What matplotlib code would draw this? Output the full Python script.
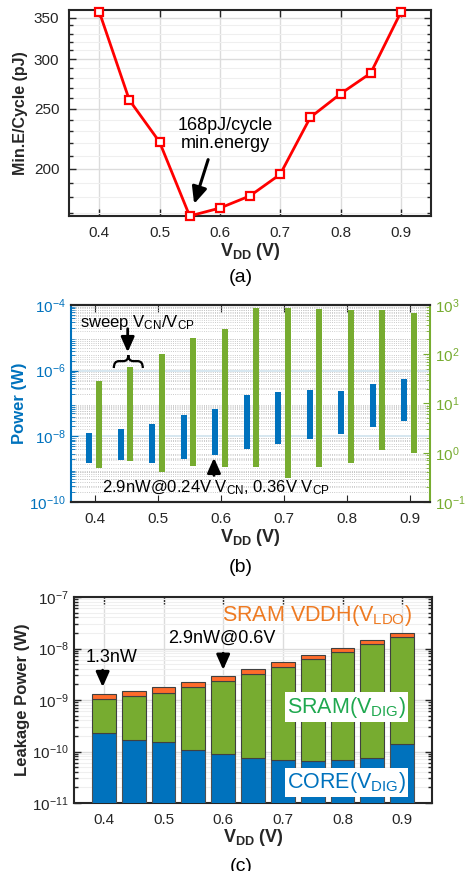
import numpy as np
import matplotlib
matplotlib.use("Agg")
import matplotlib.pyplot as plt
from matplotlib.path import Path
from matplotlib.patches import PathPatch
import matplotlib.transforms as mtransforms

plt.rcParams['font.family'] = ['Liberation Sans', 'DejaVu Sans']
plt.rcParams['mathtext.fontset'] = 'custom'
plt.rcParams['mathtext.rm'] = 'Liberation Sans'
plt.rcParams['mathtext.it'] = 'Liberation Sans'
plt.rcParams['mathtext.bf'] = 'Liberation Sans:bold'
plt.rcParams['xtick.direction'] = 'in'
plt.rcParams['ytick.direction'] = 'in'

# ---- data ----
vdd = [0.4, 0.45, 0.5, 0.55, 0.6, 0.65, 0.7, 0.75, 0.8, 0.85, 0.9]

# (a) minimum energy per cycle (pJ)
min_energy = [358, 258, 221, 168, 173, 181, 196, 242, 264, 285, 357]

# (b) power range (W) and frequency range while sweeping VCN/VCP
power_lo = [1.55e-9, 1.87e-9, 1.55e-9, 2.0e-9, 2.74e-9, 4.0e-9, 5.9e-9, 8.5e-9, 1.18e-8, 1.94e-8, 2.83e-8]
power_hi = [1.27e-8, 1.7e-8, 2.3e-8, 4.35e-8, 6.6e-8, 1.78e-7, 2.2e-7, 2.6e-7, 2.4e-7, 4.0e-7, 5.5e-7]
freq_lo = [0.50, 0.67, 0.40, 0.54, 0.515, 0.515, 0.31, 0.515, 0.61, 1.14, 1.0]
freq_hi = [28.8, 55.5, 99, 215, 323, 876, 876, 827, 790, 805, 695]

# (c) leakage power breakdown (W)
core_leak = [2.24e-10, 1.71e-10, 1.52e-10, 1.06e-10, 8.75e-11, 7.6e-11, 6.7e-11, 6.5e-11, 6.8e-11, 7.5e-11, 1.43e-10]
sram_dig_leak = [8.1e-10, 1.01e-9, 1.24e-9, 1.66e-9, 2.22e-9, 3.08e-9, 4.33e-9, 6.24e-9, 8.43e-9, 1.2e-8, 1.65e-8]
sram_vddh_leak = [2.8e-10, 3.0e-10, 4.0e-10, 5.1e-10, 6.3e-10, 7.9e-10, 1.0e-9, 1.3e-9, 1.9e-9, 2.6e-9, 3.6e-9]

xticks = [0.4, 0.5, 0.6, 0.7, 0.8, 0.9]

BLUE = '#0072BD'
GREEN = '#77AC30'
ORANGE = '#FF6B2B'
DARK = '#262626'

W, H = 468, 871
fig = plt.figure(figsize=(W / 100, H / 100), dpi=100)


def px_axes(l, t, r, b):
    return fig.add_axes([l / W, 1 - b / H, (r - l) / W, (b - t) / H])


vlabel = r'$\mathbf{V_{DD}}$ $\mathbf{(V)}$'
arrow_kw = dict(arrowstyle='-|>,head_length=0.9,head_width=0.4', color='black', lw=2)

# ================= (a) =================
ax = px_axes(69, 10, 431, 216)
ax.plot(vdd, min_energy, color='#FF0000', lw=2, marker='s', ms=6,
        mfc='white', mec='#FF0000', mew=1.6, zorder=3, clip_on=False)
ax.set_yscale('log')
ax.set_xlim(0.35, 0.95)
ax.set_ylim(168, 360)
ax.set_xticks(xticks)
ax.set_xticklabels([f'{v:.1f}' for v in xticks])
ax.set_yticks([200, 250, 300, 350])
ax.set_yticklabels(['200', '250', '300', '350'])
ax.set_yticks([v for v in range(170, 360, 10) if v not in (200, 250, 300, 350)], minor=True)
ax.yaxis.set_minor_formatter(plt.NullFormatter())
ax.xaxis.set_minor_locator(plt.NullLocator())
ax.grid(True, which='major', color='#dcdcdc', lw=1)
ax.grid(True, which='minor', axis='y', color='#efefef', lw=0.8)
ax.set_axisbelow(True)
ax.tick_params(which='both', top=True, right=True, labelsize=11, colors=DARK, width=1)
ax.tick_params(which='major', length=5, pad=7)
ax.tick_params(which='minor', length=3)
for s in ax.spines.values():
    s.set_linewidth(1.5)
    s.set_color(DARK)
ax.set_ylabel('Min.E/Cycle (pJ)', fontsize=11.5, fontweight='bold', color=DARK, labelpad=4)
ax.annotate('', xy=(0.556, 174), xytext=(0.582, 209),
            arrowprops=dict(arrowstyle='-|>,head_length=1.0,head_width=0.45', color='black', lw=2.2))
ax.text(0.609, 227, '168pJ/cycle\nmin.energy', ha='center', va='center', fontsize=13,
        linespacing=1.1)
fig.text(250 / W, 1 - 252 / H, vlabel, ha='center', va='center', fontsize=13, color=DARK)
fig.text(241 / W, 1 - 277 / H, '(a)', ha='center', va='center', fontsize=14)

# ================= (b) =================
axb = px_axes(71, 305, 430, 502)
axr = axb.twinx()
axr.set_zorder(axb.get_zorder() + 1)
axr.patch.set_visible(False)
xv = np.array(vdd)
bw = 0.0095
axb.bar(xv - 0.009, np.array(power_hi) - np.array(power_lo), bottom=power_lo, width=bw,
        color=BLUE, zorder=3)
axr.bar(xv + 0.006, np.array(freq_hi) - np.array(freq_lo), bottom=freq_lo, width=bw,
        color=GREEN, zorder=3)
axb.set_yscale('log')
axr.set_yscale('log')
axb.set_xlim(0.362, 0.932)
axb.set_ylim(1e-10, 1e-4)
axr.set_ylim(1e-1, 1e3)
axb.set_xticks(xticks)
axb.set_xticklabels([f'{v:.1f}' for v in xticks])
axb.xaxis.set_minor_locator(plt.NullLocator())
axb.set_yticks([1e-10, 1e-8, 1e-6, 1e-4])
axb.set_yticklabels([r'$10^{-10}$', r'$10^{-8}$', r'$10^{-6}$', r'$10^{-4}$'])
axb.yaxis.set_minor_locator(matplotlib.ticker.LogLocator(base=10, subs=np.arange(2, 10), numticks=20))
axb.yaxis.set_minor_formatter(plt.NullFormatter())
axr.set_yticks([1e-1, 1e0, 1e1, 1e2, 1e3])
axr.set_yticklabels([r'$10^{-1}$', r'$10^{0}$', r'$10^{1}$', r'$10^{2}$', r'$10^{3}$'])
axr.yaxis.set_minor_locator(matplotlib.ticker.LogLocator(base=10, subs=np.arange(2, 10), numticks=20))
axr.yaxis.set_minor_formatter(plt.NullFormatter())

# grid lines all live on the lower axes so they stay behind both bar sets
axb.grid(True, which='major', axis='y', color='#cfe3ee', lw=1.2)
axb.grid(True, which='minor', axis='y', color='#b8b8b8', lw=0.6, ls=':')
axb.set_axisbelow(True)
tr_r = mtransforms.blended_transform_factory(axb.transAxes, axr.transData)
for dec in [0.1, 1, 10, 100]:
    for m in range(2, 10):
        axb.plot([0, 1], [m * dec, m * dec], transform=tr_r, color='#c4c4c4', lw=0.6,
                 ls=':', zorder=1)

axb.tick_params(axis='x', which='both', top=True, labelsize=11, colors=DARK, length=5, pad=7)
axb.tick_params(axis='y', which='both', colors=BLUE, labelsize=11)
axb.tick_params(axis='y', which='major', length=5)
axb.tick_params(axis='y', which='minor', length=3)
axr.tick_params(axis='y', which='both', colors=GREEN, labelsize=11)
axr.tick_params(axis='y', which='major', length=5)
axr.tick_params(axis='y', which='minor', length=3)
for a in (axb, axr):
    for s in a.spines.values():
        s.set_linewidth(1.5)
        s.set_color(DARK)
axb.spines['left'].set_color(BLUE)
axr.spines['left'].set_visible(False)
axr.spines['right'].set_color(GREEN)
axb.spines['right'].set_visible(False)
axb.set_ylabel('Power (W)', fontsize=12, fontweight='bold', color=BLUE, labelpad=2)
axr.set_ylabel('Frequency (MHz)', fontsize=12, fontweight='bold', color=GREEN, labelpad=8)

axb.text(0.376, 3.0e-5, r'sweep V$_{\rm CN}$/V$_{\rm CP}$', ha='left', va='center', fontsize=12)
axb.annotate('', xy=(0.452, 3.0e-6), xytext=(0.452, 2.3e-5), arrowprops=arrow_kw)
# curly brace over the 0.45 V bars
tr = mtransforms.blended_transform_factory(axb.transData, axb.transAxes)
x0, xc, x1 = 0.430, 0.453, 0.476
yb, ym, yt = 0.68, 0.715, 0.746
brace = Path([(x0, yb), (x0, ym), (x0 + 0.008, ym), (xc - 0.008, ym), (xc, ym), (xc, yt),
              (xc, ym), (xc + 0.008, ym), (x1 - 0.008, ym), (x1, ym), (x1, yb)],
             [Path.MOVETO, Path.CURVE3, Path.CURVE3, Path.LINETO, Path.CURVE3, Path.CURVE3,
              Path.CURVE3, Path.CURVE3, Path.LINETO, Path.CURVE3, Path.CURVE3])
axb.add_patch(PathPatch(brace, transform=tr, fill=False, lw=1.6, color='black', zorder=5))
axb.text(0.411, 2.8e-10, r'2.9nW@0.24V V$_{\rm CN}$, 0.36V V$_{\rm CP}$', ha='left', va='center',
         fontsize=12, zorder=6)
axb.annotate('', xy=(0.589, 2.7e-9), xytext=(0.589, 5.3e-10), arrowprops=arrow_kw)
fig.text(250.5 / W, 1 - 538 / H, vlabel, ha='center', va='center', fontsize=13, color=DARK)
fig.text(241 / W, 1 - 568 / H, '(b)', ha='center', va='center', fontsize=14)

# ================= (c) =================
axc = px_axes(74, 597, 432, 803)
core = np.array(core_leak)
sram = np.array(sram_dig_leak)
vddh = np.array(sram_vddh_leak)
axc.bar(vdd, core, width=0.04, color=BLUE, edgecolor='#505050', lw=0.8, zorder=3)
axc.bar(vdd, sram, bottom=core, width=0.04, color=GREEN, edgecolor='#404040', lw=0.8, zorder=3)
axc.bar(vdd, vddh, bottom=core + sram, width=0.04, color=ORANGE, edgecolor='#404040', lw=0.8, zorder=3)
axc.set_yscale('log')
axc.set_xlim(0.35, 0.95)
axc.set_ylim(1e-11, 1e-7)
axc.set_xticks(xticks)
axc.set_xticklabels([f'{v:.1f}' for v in xticks])
axc.xaxis.set_minor_locator(plt.NullLocator())
axc.set_yticks([1e-11, 1e-10, 1e-9, 1e-8, 1e-7])
axc.set_yticklabels([r'$10^{-11}$', r'$10^{-10}$', r'$10^{-9}$', r'$10^{-8}$', r'$10^{-7}$'])
axc.yaxis.set_minor_locator(matplotlib.ticker.LogLocator(base=10, subs=np.arange(2, 10), numticks=20))
axc.yaxis.set_minor_formatter(plt.NullFormatter())
axc.grid(True, which='major', color='#dcdcdc', lw=1)
axc.grid(True, which='minor', axis='y', color='#efefef', lw=0.8)
axc.set_axisbelow(True)
axc.tick_params(which='both', top=True, right=True, labelsize=11, colors=DARK, width=1)
axc.tick_params(which='major', length=5)
axc.tick_params(axis='x', pad=7)
axc.tick_params(which='minor', length=3)
for s in axc.spines.values():
    s.set_linewidth(1.5)
    s.set_color(DARK)
axc.set_ylabel('Leakage Power (W)', fontsize=12, fontweight='bold', color=DARK, labelpad=2)

axc.text(0.758, 4.3e-8, r'SRAM VDDH(V$_{\rm LDO}$)', ha='center', va='center', fontsize=15.5,
         color='#EE7A22', zorder=6)
axc.text(0.807, 7.3e-10, r'SRAM(V$_{\rm DIG}$)', ha='center', va='center', fontsize=15.5,
         color='#1FA84F', zorder=6,
         bbox=dict(boxstyle='square,pad=0.1', fc='white', ec='none'))
axc.text(0.807, 2.5e-11, r'CORE(V$_{\rm DIG}$)', ha='center', va='center', fontsize=15.5,
         color=BLUE, zorder=6,
         bbox=dict(boxstyle='square,pad=0.1', fc='white', ec='none'))
axc.text(0.413, 6.6e-9, '1.3nW', ha='center', va='center', fontsize=13, zorder=6)
axc.annotate('', xy=(0.398, 1.57e-9), xytext=(0.398, 4.3e-9), arrowprops=arrow_kw)
axc.text(0.598, 1.55e-8, '2.9nW@0.6V', ha='center', va='center', fontsize=13, zorder=6)
axc.annotate('', xy=(0.6, 3.4e-9), xytext=(0.6, 9.2e-9), arrowprops=arrow_kw)
fig.text(253 / W, 1 - 837 / H, vlabel, ha='center', va='center', fontsize=13, color=DARK)
fig.text(241 / W, 1 - 866 / H, '(c)', ha='center', va='center', fontsize=14)

fig.savefig('out.png', dpi=100)
